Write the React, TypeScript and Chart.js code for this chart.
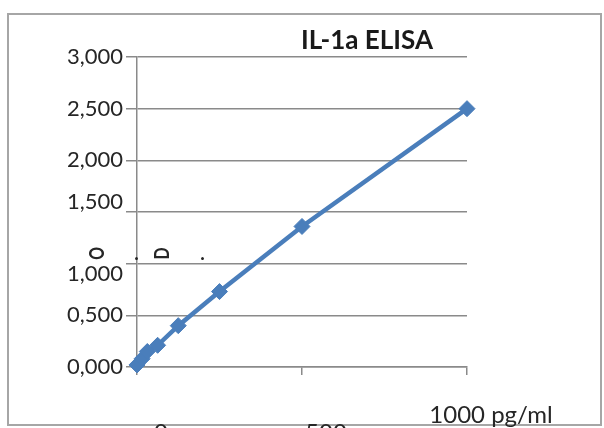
import React, { useEffect, useRef } from 'react';
import { Chart, registerables } from 'chart.js';

Chart.register(...registerables);

const chartTitle = 'IL-1a ELISA';
const concentrations = [0, 15.6, 31.25, 62.5, 125, 250, 500, 1000];
const odValues = [0.02, 0.08, 0.15, 0.21, 0.4, 0.73, 1.36, 2.5];
const xUnit = 'pg/ml';
const xMax = 1000;
const yMax = 3;
const yStep = 0.5;
const xStep = 500;
const yAxisChars = ['O', '.', 'D', '.'];

const FONT = 'Lato, "Open Sans", sans-serif';
const BLUE = '#4a7ebb';
const GRID = '#8a8a8a';
const TEXT = '#262626';

export default function App() {
  const ref = useRef<HTMLCanvasElement>(null);

  useEffect(() => {
    document.body.style.margin = '0';
    const overlay = {
      id: 'overlay',
      beforeDraw(chart: any) {
        const ctx = chart.ctx;
        ctx.save();
        ctx.fillStyle = '#ffffff';
        ctx.fillRect(0, 0, chart.width, chart.height);
        ctx.strokeStyle = '#a6a6a6';
        ctx.lineWidth = 2;
        ctx.strokeRect(8, 14, 593, 411);
        ctx.restore();
      },
      afterDraw(chart: any) {
        const ctx = chart.ctx;
        ctx.save();
        ctx.fillStyle = '#1a1a1a';
        ctx.font = `bold 26px ${FONT}`;
        ctx.textAlign = 'center';
        ctx.textBaseline = 'middle';
        ctx.fillText(chartTitle, 367, 41);

        const xs = [97.5, 136.5, 162.5, 202.5];
        ctx.fillStyle = TEXT;
        yAxisChars.forEach((ch, i) => {
          if (ch === '.') {
            ctx.save();
            ctx.font = `bold 19px ${FONT}`;
            ctx.textAlign = 'center';
            ctx.textBaseline = 'alphabetic';
            ctx.fillText(ch, xs[i], 260);
            ctx.restore();
          } else {
            ctx.save();
            ctx.translate(xs[i], 253.5);
            ctx.rotate(-Math.PI / 2);
            ctx.scale(0.75, 1);
            ctx.font = `bold 21px ${FONT}`;
            ctx.textAlign = 'center';
            ctx.textBaseline = 'middle';
            ctx.fillText(ch, 0, 0);
            ctx.restore();
          }
        });
        ctx.restore();
      },
    };

    const chart = new Chart(ref.current!, {
      type: 'scatter',
      data: {
        datasets: [
          {
            data: concentrations.map((x, i) => ({ x, y: odValues[i] })),
            showLine: true,
            borderColor: BLUE,
            backgroundColor: BLUE,
            borderWidth: 4.5,
            pointStyle: 'rectRot',
            pointRadius: 8,
            pointBorderWidth: 1,
            pointBorderColor: BLUE,
            pointBackgroundColor: BLUE,
            clip: false,
          } as any,
        ],
      },
      options: {
        responsive: false,
        animation: false,
        events: [],
        layout: { padding: { left: 0, right: 137, top: 57, bottom: 0 } },
        plugins: {
          legend: { display: false },
          title: { display: false },
          tooltip: { enabled: false },
        },
        scales: {
          x: {
            type: 'linear',
            min: 0,
            max: xMax,
            afterFit(scale: any) {
              scale.height = 61;
              scale.paddingLeft = 0;
              scale.paddingRight = 0;
            },
            grid: {
              display: true,
              drawOnChartArea: false,
              drawTicks: true,
              tickLength: 8,
              color: GRID,
              lineWidth: 1.5,
            },
            border: { display: true, color: GRID, width: 1.5 },
            ticks: {
              stepSize: xStep,
              maxRotation: 0,
              autoSkip: false,
              padding: 31,
              labelOffset: 24,
              color: TEXT,
              font: { family: FONT, size: 24, lineHeight: '18px' } as any,
              callback: (v: any) => (Number(v) === xMax ? `${v} ${xUnit}` : ['', String(v)]),
            },
          },
          y: {
            type: 'linear',
            min: 0,
            max: yMax,
            afterFit(scale: any) {
              scale.width = 137;
              scale.paddingTop = 0;
              scale.paddingBottom = 0;
            },
            grid: {
              color: GRID,
              lineWidth: 1.5,
              drawTicks: true,
              tickLength: 11,
            },
            border: { display: true, color: GRID, width: 1.5 },
            ticks: {
              stepSize: yStep,
              padding: 3,
              color: TEXT,
              font: { family: FONT, size: 22, lineHeight: '20px' } as any,
              callback: (v: any) => {
                const s = Number(v).toFixed(3).replace('.', ',');
                const n = Number(v);
                if (n === 1.5) return [s, ''];
                if (n === 1) return ['', s];
                return s;
              },
            },
          },
        },
      },
      plugins: [overlay],
    });
    return () => chart.destroy();
  }, []);

  return (
    <div style={{ width: 604, height: 428 }}>
      <canvas ref={ref} width={604} height={428} style={{ display: 'block' }} />
    </div>
  );
}
